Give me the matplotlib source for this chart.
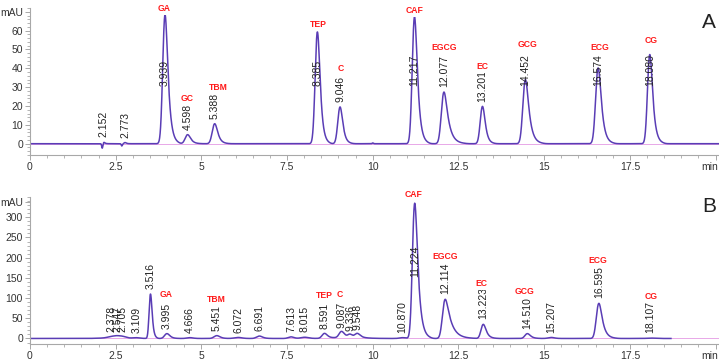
import numpy as np
import matplotlib
matplotlib.use("Agg")
import matplotlib.pyplot as plt
from matplotlib.ticker import MultipleLocator, FuncFormatter

plt.rcParams['font.family'] = ['Liberation Sans', 'DejaVu Sans']

# ---- chromatogram A (standards) ----
rt_a = [2.152, 2.773, 3.939, 4.598, 5.388, 8.385, 9.046, 11.217, 12.077, 13.201, 14.452, 16.574, 18.080]
height_a = [0.8, 0.6, 68.5, 4.8, 10.6, 59.3, 19.5, 67.3, 27.4, 19.8, 34.0, 40.2, 47.3]
sigma_a = [0.02, 0.025, 0.055, 0.06, 0.06, 0.055, 0.055, 0.055, 0.06, 0.055, 0.06, 0.06, 0.055]
tau_a = [0.03, 0.03, 0.08, 0.08, 0.08, 0.07, 0.07, 0.08, 0.12, 0.07, 0.1, 0.09, 0.08]
dip_rt_a = [2.11, 2.68, 10.0]
dip_height_a = [-2.5, -1.2, 0.4]

names_a = ["GA", "GC", "TBM", "TEP", "C", "CAF", "EGCG", "EC", "GCG", "ECG", "CG"]
name_x_a = [3.90, 4.58, 5.49, 8.40, 9.07, 11.22, 12.07, 13.20, 14.50, 16.62, 18.13]
name_y_a = [71.7, 23.9, 29.8, 63.2, 39.8, 70.6, 51.0, 41.0, 52.6, 51.0, 55.0]

# ---- chromatogram B (sample) ----
rt_b = [2.378, 2.547, 2.705, 3.109, 3.516, 3.995, 4.666, 5.451, 6.072, 6.691, 7.613, 8.015,
        8.591, 9.087, 9.336, 9.548, 10.870, 11.224, 12.114, 13.223, 14.510, 15.207, 16.595, 18.107]
height_b = [3.0, 3.5, 3.0, 1.5, 110, 12, 2, 7, 2.5, 6, 4, 3,
            12, 15, 7, 10, 2, 335, 97, 35, 12, 2.5, 87, 1]
sigma_b = [0.1, 0.08, 0.08, 0.08, 0.035, 0.06, 0.08, 0.07, 0.1, 0.07, 0.07, 0.1,
           0.06, 0.06, 0.05, 0.06, 0.08, 0.055, 0.06, 0.055, 0.06, 0.08, 0.06, 0.1]
tau_b = [0.05, 0.05, 0.05, 0.05, 0.04, 0.07, 0.05, 0.07, 0.05, 0.07, 0.05, 0.05,
         0.07, 0.07, 0.05, 0.07, 0.05, 0.09, 0.16, 0.08, 0.08, 0.05, 0.1, 0.05]
drift_rt_b = [2.5, 9.3]
drift_height_b = [2.0, 3.0]
drift_sigma_b = [0.35, 0.4]

names_b = ["GA", "TBM", "TEP", "C", "CAF", "EGCG", "EC", "GCG", "ECG", "CG"]
name_x_b = [3.96, 5.44, 8.58, 9.04, 11.20, 12.10, 13.18, 14.43, 16.56, 18.13]
name_y_b = [110, 97, 107, 110, 357, 202, 136, 117, 192, 105]

dt = 0.002


def peak(t, rt, h, sigma, tau):
    # gaussian convolved with an exponential tail, apex moved onto rt
    local = np.arange(-1.0, 3.0, dt)
    g = np.exp(-0.5 * (local / sigma) ** 2)
    k = np.exp(-np.arange(0, 6 * tau, dt) / tau)
    conv = np.convolve(g, k)[:len(local)]
    conv /= conv.max()
    apex = local[np.argmax(conv)]
    return h * np.interp(t, local + rt - apex, conv, left=0, right=0)


t_a = np.arange(0, 20.1, dt)
y_a = np.zeros_like(t_a)
for r, h, s, ta in zip(rt_a, height_a, sigma_a, tau_a):
    y_a += peak(t_a, r, h, s, ta)
for r, h in zip(dip_rt_a, dip_height_a):
    y_a += peak(t_a, r, h, 0.015, 0.01)

t_b = np.arange(0, 18.7, dt)
y_b = np.zeros_like(t_b)
for r, h, s, ta in zip(rt_b, height_b, sigma_b, tau_b):
    y_b += peak(t_b, r, h, s, ta)
for r, h, s in zip(drift_rt_b, drift_height_b, drift_sigma_b):
    y_b += h * np.exp(-0.5 * ((t_b - r) / s) ** 2)

fig = plt.figure(figsize=(7.19, 3.63), dpi=100)
ax_a = fig.add_axes([0.0417, 0.573, 0.9583, 0.405])
ax_b = fig.add_axes([0.0417, 0.052, 0.9583, 0.405])

trace_color = '#5a3db5'
grey = '#a8a8a8'


def style_axis(ax, ylim, ymajor, yminor, mau_y, ymax_tick):
    ax.set_xlim(0, 20.1)
    ax.set_ylim(*ylim)
    for side in ['top', 'right']:
        ax.spines[side].set_visible(False)
    for side in ['left', 'bottom']:
        ax.spines[side].set_color(grey)
        ax.spines[side].set_linewidth(0.8)
    ax.xaxis.set_major_locator(MultipleLocator(2.5))
    ax.xaxis.set_minor_locator(MultipleLocator(0.5))
    ax.xaxis.set_major_formatter(FuncFormatter(lambda v, p: f"{v:g}" if v < 18 else ""))
    ticks = list(np.arange(0, ymax_tick + 1, ymajor)) + [mau_y]
    ax.set_yticks(ticks)
    ax.set_yticklabels([f"{v:g}" for v in ticks[:-1]] + ["mAU"])
    ax.yaxis.set_minor_locator(MultipleLocator(yminor))
    ax.tick_params(axis='both', which='major', length=3.5, width=0.7, color=grey,
                   labelsize=7.5, labelcolor='#333333', pad=1.5)
    ax.tick_params(axis='both', which='minor', length=2, width=0.6, color=grey)
    ax.annotate("min", xy=(1.0, 0.0), xycoords='axes fraction', xytext=(-1, -5),
                textcoords='offset points', ha='right', va='top', fontsize=7.5, color='#333333')


def draw(ax, t, y, rts, heights, cap, names, name_x, name_y):
    ax.axhline(0, color='#e8a8e8', lw=0.7, zorder=1)
    ax.plot(t, y, color=trace_color, lw=1.1, zorder=2)
    for r, h in zip(rts, heights):
        ax.annotate(f"{r:.3f}", xy=(r, min(h, cap)), xytext=(0, 3.5), textcoords='offset points',
                    rotation=90, ha='center', va='bottom', fontsize=7.5, color='#222222', zorder=3)
    for n, x, yy in zip(names, name_x, name_y):
        ax.text(x, yy, n, ha='center', va='center', fontsize=6.2, fontweight='bold', color='#ff1a1a',
                bbox=dict(facecolor='white', edgecolor='none', pad=1.2), zorder=4, clip_on=False)


style_axis(ax_a, (-6, 72), 10, 2, 70, 60)
style_axis(ax_b, (-14, 350), 50, 10, 337, 300)
draw(ax_a, t_a, y_a, rt_a, height_a, 28, names_a, name_x_a, name_y_a)
draw(ax_b, t_b, y_b, rt_b, height_b, 140, names_b, name_x_b, name_y_b)

fig.text(0.986, 0.939, "A", fontsize=15, ha='center', va='center', color='#222222')
fig.text(0.986, 0.430, "B", fontsize=15, ha='center', va='center', color='#222222')

plt.savefig("out.png", dpi=100)
